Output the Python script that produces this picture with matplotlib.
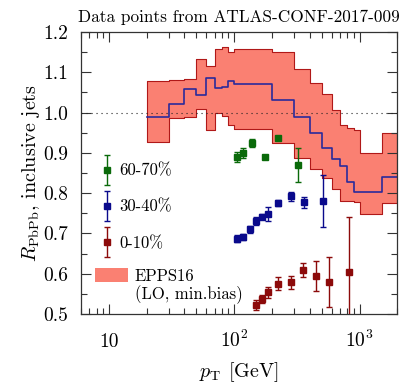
import numpy as np
import matplotlib
matplotlib.use('Agg')
import matplotlib.pyplot as plt
from matplotlib.patches import Patch
from matplotlib.container import ErrorbarContainer
from matplotlib.legend_handler import HandlerErrorbar
from matplotlib.ticker import FormatStrFormatter, MultipleLocator

# EPPS16 band (bin edges in GeV, values per bin)
edges = [20, 30, 40, 50, 60, 70, 80, 90, 100, 200, 300, 400, 500, 600, 700, 800, 900, 1000, 1500, 2000]
epps_up = [1.078, 1.080, 1.084, 1.132, 1.116, 1.157, 1.162, 1.151, 1.159, 1.150, 1.109, 1.074,
           1.047, 1.006, 0.970, 0.963, 0.957, 0.900, 0.949]
epps_cen = [0.988, 1.021, 1.058, 1.044, 1.085, 1.060, 1.063, 1.079, 1.071, 1.031, 0.989, 0.950,
            0.911, 0.886, 0.867, 0.828, 0.804, 0.804, 0.839]
epps_lo = [0.926, 0.986, 0.990, 1.010, 0.957, 1.000, 0.992, 0.969, 0.960, 0.925, 0.888, 0.859,
           0.837, 0.810, 0.780, 0.781, 0.777, 0.748, 0.775]

# ATLAS data points
pt_6070 = [105, 117, 139, 177, 224, 324]
r_6070 = [0.890, 0.899, 0.925, 0.889, 0.937, 0.870]
err_6070 = [0.013, 0.012, 0.010, 0.005, 0.005, 0.042]

pt_3040 = [105, 117, 133, 150, 167, 186, 224, 282, 358, 514]
r_3040 = [0.687, 0.691, 0.710, 0.730, 0.742, 0.748, 0.776, 0.792, 0.777, 0.780]
err_3040 = [0.009, 0.008, 0.008, 0.010, 0.007, 0.017, 0.008, 0.012, 0.013, 0.064]

pt_010 = [148, 166, 186, 224, 283, 356, 445, 568, 817]
r_010 = [0.522, 0.537, 0.554, 0.575, 0.579, 0.609, 0.595, 0.580, 0.604]
err_010 = [0.012, 0.010, 0.014, 0.016, 0.016, 0.017, 0.037, 0.062, 0.138]

xticks = [10, 100, 1000]
xtick_labels = ['10', r'$10^2$', r'$10^3$']

plt.rcParams['font.family'] = ['cmr10', 'DejaVu Serif']
plt.rcParams['mathtext.fontset'] = 'cm'
plt.rcParams['axes.formatter.use_mathtext'] = True
plt.rcParams['font.size'] = 12

fig = plt.figure(figsize=(4.01, 3.83), dpi=100)
ax = fig.add_axes([0.202, 0.180, 0.789, 0.7364])

# band
up_s = np.append(epps_up, epps_up[-1])
lo_s = np.append(epps_lo, epps_lo[-1])
cen_s = np.append(epps_cen, epps_cen[-1])
ax.fill_between(edges, lo_s, up_s, step='post', facecolor='#fa8072', edgecolor='#b01818',
                lw=0.8, zorder=1)
ax.step(edges, cen_s, where='post', color='#2a2a9c', lw=1.2, zorder=2)
ax.axhline(1.0, color='#222222', ls=(0, (1, 3.5)), lw=0.8, zorder=3)

h6070 = ax.errorbar(pt_6070, r_6070, yerr=err_6070, fmt='s', color='#0a6a0a', ms=4.2,
                    capsize=2.2, elinewidth=1, capthick=1, zorder=4)
h3040 = ax.errorbar(pt_3040, r_3040, yerr=err_3040, fmt='s', color='#0a0a8c', ms=4.2,
                    capsize=2.2, elinewidth=1, capthick=1, zorder=4)
h010 = ax.errorbar(pt_010, r_010, yerr=err_010, fmt='s', color='#8c0a0a', ms=4.2,
                   capsize=2.2, elinewidth=1, capthick=1, zorder=4)

ax.set_xscale('log')
ax.set_xlim(6, 2000)
ax.set_ylim(0.5, 1.2)
ax.set_xticks(xticks)
ax.set_xticklabels(xtick_labels)
for t in ax.get_xticklabels():
    t.set_va('baseline')
ax.yaxis.set_major_locator(MultipleLocator(0.1))
ax.yaxis.set_minor_locator(MultipleLocator(0.05))
ax.yaxis.set_major_formatter(FormatStrFormatter('%.1f'))
ax.tick_params(which='both', direction='in', top=True, right=True, color='#333333', width=0.8)
ax.tick_params(which='major', length=7.5, labelsize=14)
ax.tick_params(which='minor', length=4.3)
ax.tick_params(axis='x', which='major', pad=24)
ax.tick_params(axis='y', which='major', pad=9)
for s in ax.spines.values():
    s.set_color('#333333')
    s.set_linewidth(0.9)

ax.set_xlabel(r'$p_{\rm T}$ [GeV]', fontsize=14.5, labelpad=6)
ax.set_ylabel(r'$R_{\rm PbPb}$, inclusive jets', fontsize=14.5, labelpad=1)
ax.set_title('Data points from ATLAS-CONF-2017-009', fontsize=12.4, pad=7)

leg1 = ax.legend(handles=[h6070, h3040, h010], labels=['60-70%', '30-40%', '0-10%'],
                 loc='upper left', bbox_to_anchor=(0.061, 0.535), frameon=False,
                 handlelength=0.8, handletextpad=0.35, labelspacing=1.25,
                 borderpad=0, borderaxespad=0,
                 handler_map={ErrorbarContainer: HandlerErrorbar(yerr_size=0.9)})
ax.add_artist(leg1)
band_patch = Patch(facecolor='#fa8072', edgecolor='none')
blank_patch = Patch(facecolor='none', edgecolor='none')
ax.legend(handles=[band_patch, blank_patch], labels=['EPPS16', '(LO, min.bias)'], loc='upper left',
          bbox_to_anchor=(0.044, 0.165), frameon=False, handlelength=1.96, handleheight=1.0,
          handletextpad=0.44, labelspacing=0.1, borderpad=0, borderaxespad=0)

fig.savefig('out.png', dpi=100)
